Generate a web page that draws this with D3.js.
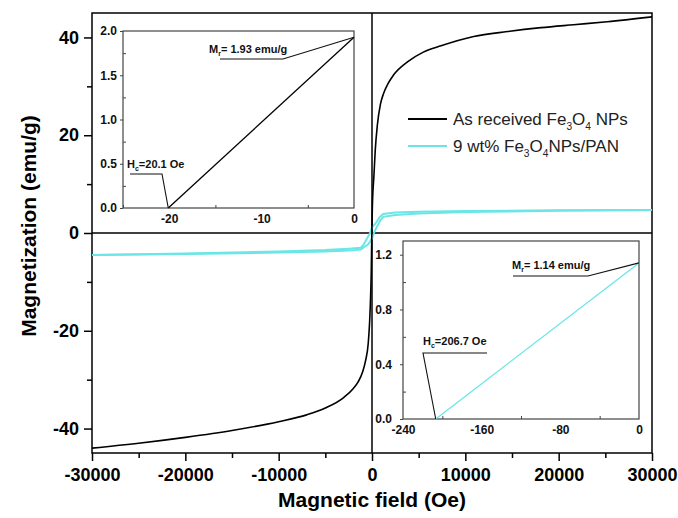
<!DOCTYPE html>
<html>
<head>
<meta charset="utf-8">
<script src="https://d3js.org/d3.v7.min.js"></script>
<style>
  body { margin: 0; background: #fff; }
  text { font-family: "Liberation Sans", Arial, sans-serif; }
</style>
</head>
<body>
<div id="chart"></div>
<script>
// main loop, As received Fe3O4 NPs (one branch, Hc is only ~20 Oe)
const fieldBare = [-30000, -25000, -20000, -15000, -10000, -7000, -5000, -3000, -2000, -1500, -1000, -700, -400, -250, -150, -80, -20, 40, 100, 200, 350, 570, 900, 1250, 1700, 2300, 3800, 5500, 7400, 10900, 14500, 18100, 21600, 25200, 30000];
const magBare   = [-44.0, -43.0, -41.8, -40.4, -38.6, -37.2, -35.8, -33.6, -31.8, -30.5, -28.4, -26.2, -22.5, -18, -13, -8, 0, 5.5, 8.5, 11.5, 17, 22, 26.3, 28.6, 30.5, 32.3, 35, 37, 38.3, 40.2, 41.2, 42, 42.6, 43.2, 44.2];

// 9 wt% Fe3O4 NPs/PAN, descending and ascending branches
const fieldDesc = [-30000, -20000, -10000, -5000, -2500, -1200, -900, -500, -206.7, 0, 400, 800, 1200, 2500, 5000, 10000, 20000, 30000];
const magDesc   = [-4.5, -4.2, -3.8, -3.5, -3.2, -3.0, -2.4, -1.0, 0, 1.14, 2.0, 3.2, 3.9, 4.2, 4.35, 4.5, 4.65, 4.7];
const fieldAsc  = [-30000, -20000, -10000, -5000, -2500, -1200, -800, -400, 0, 206.7, 500, 900, 1200, 2500, 5000, 10000, 20000, 30000];
const magAsc    = [-4.5, -4.3, -4.0, -3.8, -3.6, -3.4, -2.8, -2.3, -1.14, 0, 1.2, 2.6, 3.3, 3.7, 4.0, 4.3, 4.55, 4.7];

// insets: low field part of the loops
const ins1Field = [-20.1, 0];
const ins1Mag   = [0, 1.93];
const ins2Field = [-206.7, 0];
const ins2Mag   = [0, 1.14];

const xTicks = [-30000, -20000, -10000, 0, 10000, 20000, 30000];
const yTicks = [-40, -20, 0, 20, 40];
const ins1XTicks = [-20, -10, 0];
const ins1YTicks = [0, 0.5, 1.0, 1.5, 2.0];
const ins2XTicks = [-240, -160, -80, 0];
const ins2YTicks = [0, 0.4, 0.8, 1.2];

const cyan = "#6ae6e6";
const W = 678, H = 518;
const plot = {left: 92, right: 652, top: 13, bottom: 453};

// plain hyphen for negatives, as in the figure
const intFmt = d => String(d);
const decFmt = d => d.toFixed(1);

const svg = d3.select("#chart").append("svg")
    .attr("width", W).attr("height", H);

const x = d3.scaleLinear().domain([-30000, 30000]).range([plot.left, plot.right]);
const y = d3.scaleLinear().domain([-45, 45]).range([plot.bottom, plot.top]);

// axes (ticks outward)
const yAxis = svg.append("g").attr("transform", `translate(${plot.left},0)`)
    .call(d3.axisLeft(y).tickValues(yTicks).tickSize(8).tickPadding(5).tickFormat(intFmt));
svg.append("g").attr("transform", `translate(${plot.left},0)`)
    .call(d3.axisLeft(y).tickValues([-30, -10, 10, 30]).tickSize(5).tickFormat(""));
const xAxis = svg.append("g").attr("transform", `translate(0,${plot.bottom})`)
    .call(d3.axisBottom(x).tickValues(xTicks).tickSize(8).tickPadding(7).tickFormat(intFmt));
svg.append("g").attr("transform", `translate(0,${plot.bottom})`)
    .call(d3.axisBottom(x).tickValues([-25000, -15000, -5000, 5000, 15000, 25000]).tickSize(5).tickFormat(""));
svg.selectAll(".domain").remove();
svg.selectAll(".tick line").attr("stroke", "#000").attr("stroke-width", 1.5);
yAxis.selectAll("text").attr("font-size", 18).attr("font-weight", "bold").attr("fill", "#000");
xAxis.selectAll("text").attr("font-size", 18).attr("font-weight", "bold").attr("fill", "#000");

// frame and zero lines
svg.append("rect")
    .attr("x", plot.left).attr("y", plot.top)
    .attr("width", plot.right - plot.left).attr("height", plot.bottom - plot.top)
    .attr("fill", "none").attr("stroke", "#000").attr("stroke-width", 1.5);
svg.append("line").attr("x1", plot.left).attr("x2", plot.right)
    .attr("y1", y(0)).attr("y2", y(0)).attr("stroke", "#000").attr("stroke-width", 1.5);
svg.append("line").attr("x1", x(0)).attr("x2", x(0))
    .attr("y1", plot.top).attr("y2", plot.bottom).attr("stroke", "#000").attr("stroke-width", 1.5);

// curves
const line = d3.line().x(d => x(d[0])).y(d => y(d[1]));
svg.append("path")
    .datum(d3.zip(fieldDesc, magDesc))
    .attr("d", line).attr("fill", "none").attr("stroke", cyan).attr("stroke-width", 2);
svg.append("path")
    .datum(d3.zip(fieldAsc, magAsc))
    .attr("d", line).attr("fill", "none").attr("stroke", cyan).attr("stroke-width", 2);
svg.append("path")
    .datum(d3.zip(fieldBare, magBare))
    .attr("d", line.curve(d3.curveMonotoneX)).attr("fill", "none").attr("stroke", "#000").attr("stroke-width", 1.6);

// axis titles
svg.append("text").attr("x", 372).attr("y", 507).attr("text-anchor", "middle")
    .attr("font-size", 21).attr("font-weight", "bold").text("Magnetic field (Oe)");
svg.append("text").attr("transform", "translate(36,226) rotate(-90)").attr("text-anchor", "middle")
    .attr("font-size", 21).attr("font-weight", "bold").text("Magnetization (emu/g)");

// legend
function subText(sel, parts, size) {
  parts.forEach(p => {
    if (p.sub) sel.append("tspan").attr("font-size", size * 0.6).attr("dy", 5).text(p.t);
    else sel.append("tspan").attr("font-size", size).attr("dy", p.up ? -5 : 0).text(p.t);
  });
}
const legend = svg.append("g");
const legItems = [
  {color: "#000", parts: [{t: "As received Fe"}, {t: "3", sub: 1}, {t: "O", up: 1}, {t: "4", sub: 1}, {t: " NPs", up: 1}]},
  {color: cyan, parts: [{t: "9 wt% Fe"}, {t: "3", sub: 1}, {t: "O", up: 1}, {t: "4", sub: 1}, {t: "NPs/PAN", up: 1}]}
];
legItems.forEach((it, i) => {
  const ly = 119 + i * 27;
  legend.append("line").attr("x1", 408).attr("x2", 447).attr("y1", ly).attr("y2", ly)
      .attr("stroke", it.color).attr("stroke-width", 1.8);
  const t = legend.append("text").attr("x", 453).attr("y", ly + 6).attr("fill", "#222");
  subText(t, it.parts, 17);
});

// inset helper
function inset(cfg) {
  const g = svg.append("g");
  const ix = d3.scaleLinear().domain(cfg.xDom).range([cfg.left, cfg.right]);
  const iy = d3.scaleLinear().domain(cfg.yDom).range([cfg.bottom, cfg.top]);
  g.append("rect").attr("x", cfg.left).attr("y", cfg.top)
      .attr("width", cfg.right - cfg.left).attr("height", cfg.bottom - cfg.top)
      .attr("fill", "#fff").attr("stroke", "#444").attr("stroke-width", 1.2);
  g.append("g").attr("transform", `translate(${cfg.left},0)`)
      .call(d3.axisLeft(iy).tickValues(cfg.yTicks).tickSize(3).tickPadding(cfg.yPad).tickFormat(decFmt));
  g.append("g").attr("transform", `translate(${cfg.left},0)`)
      .call(d3.axisRight(iy).tickValues(cfg.yMinor).tickSize(3).tickFormat(""));
  g.append("g").attr("transform", `translate(0,${cfg.bottom})`)
      .call(d3.axisBottom(ix).tickValues(cfg.xTicks).tickSize(0).tickPadding(6).tickFormat(intFmt));
  g.append("g").attr("transform", `translate(0,${cfg.bottom})`)
      .call(d3.axisTop(ix).tickValues(cfg.xMinor).tickSize(3).tickFormat(""));
  g.selectAll(".domain").remove();
  g.selectAll(".tick line").attr("stroke", "#444");
  g.selectAll(".tick text").attr("font-size", 12).attr("font-weight", "bold").attr("fill", "#111");
  g.append("path").datum(d3.zip(cfg.field, cfg.mag))
      .attr("d", d3.line().x(d => ix(d[0])).y(d => iy(d[1])))
      .attr("fill", "none").attr("stroke", cfg.color).attr("stroke-width", 1.3);
  return {g, ix, iy};
}

const in1 = inset({
  left: 123, right: 354, top: 31, bottom: 208,
  xDom: [-25, 0], yDom: [0, 2],
  xTicks: ins1XTicks, yTicks: ins1YTicks,
  xMinor: [-25, -15, -5], yMinor: [0.25, 0.75, 1.25, 1.75],
  yPad: 3, field: ins1Field, mag: ins1Mag, color: "#000"
});
const in2 = inset({
  left: 403, right: 639, top: 241, bottom: 419,
  xDom: [-240, 0], yDom: [0, 1.3],
  xTicks: ins2XTicks, yTicks: ins2YTicks,
  xMinor: [-200, -120, -40], yMinor: [0.2, 0.6, 1.0],
  yPad: 8, field: ins2Field, mag: ins2Mag, color: cyan
});

// annotations: label with subscript, underline, leader to the point
function note(g, tx, ty, main, sub, rest, pts) {
  const t = g.append("text").attr("x", tx).attr("y", ty)
      .attr("font-size", 11).attr("font-weight", "bold").attr("fill", "#111");
  t.append("tspan").text(main);
  t.append("tspan").attr("font-size", 7).attr("dy", 3).text(sub);
  t.append("tspan").attr("dy", -3).text(rest);
  g.append("polyline")
      .attr("points", pts.map(p => p.join(",")).join(" "))
      .attr("fill", "none").attr("stroke", "#111").attr("stroke-width", 1.1);
}
note(in1.g, 209, 53, "M", "r", "= 1.93 emu/g", [[220, 59], [283, 59], [in1.ix(0), in1.iy(1.93)]]);
note(in1.g, 127, 168, "H", "c", "=20.1 Oe", [[130, 174], [162, 174], [in1.ix(-20.1), in1.iy(0)]]);
note(in2.g, 512, 269, "M", "r", "= 1.14 emu/g", [[513, 276], [588, 276], [in2.ix(0), in2.iy(1.14)]]);
note(in2.g, 423, 345, "H", "c", "=206.7 Oe", [[487, 353], [423, 353], [in2.ix(-206.7), in2.iy(0)]]);
</script>
</body>
</html>
